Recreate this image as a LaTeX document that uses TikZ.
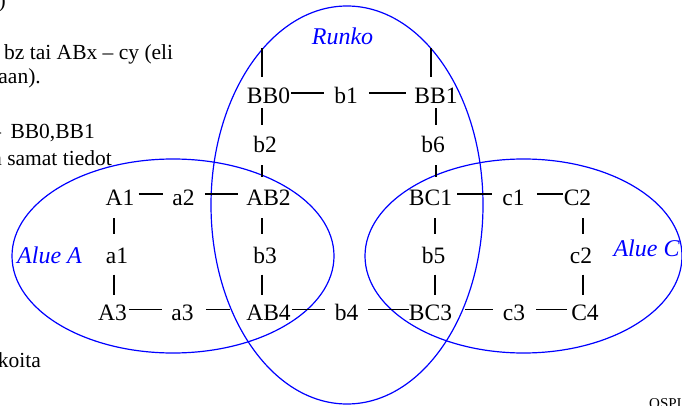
\documentclass[tikz,border=0pt]{standalone}
\usepackage{fontspec}
\setmainfont{Liberation Serif}
\begin{document}
\begin{tikzpicture}[x=1pt,y=-1pt,
  lab/.style={font=\fontsize{23.5}{24}\selectfont, inner sep=0pt, text height=16pt, text depth=0pt, anchor=base},
  side/.style={font=\fontsize{21.5}{22}\selectfont, inner sep=0pt},
  area/.style={draw=blue, line width=1.2pt},
  arealab/.style={text=blue, font=\fontsize{24}{24}\selectfont\itshape, inner sep=0pt, anchor=base},
  hl/.style={draw=black, line width=1.3pt},
  vl/.style={draw=black, line width=1.3pt}]
\useasboundingbox (0,0) rectangle (682,406);

% areas
\draw[area] (347,205) ellipse [x radius=136, y radius=199];
\draw[area] (173,256) ellipse [x radius=161, y radius=97];
\draw[area] (523.5,256) ellipse [x radius=158.5, y radius=97];
\node[arealab] (runko) at (342.5,45) {Runko};
\node[arealab] (aluea) at (49.5,263) {Alue A};
\node[arealab] (aluec) at (646.5,256) {Alue C};

% side text (cut off slide text)
\node[side, anchor=base east] (t0) at (6,8) {)};
\node[side, anchor=base west] (t1) at (4,60) {bz tai ABx – cy (eli};
\node[side, anchor=base east] (t2) at (41,84) {aan).};
\node[side, anchor=base east] (t3) at (95,139) {–\hspace{9.5pt}BB0,BB1};
\node[side, anchor=base east] (t4) at (112,166) {a samat tiedot};
\node[side, anchor=base east] (t5) at (41,367) {koita};
\node[font=\fontsize{15}{15}\selectfont, inner sep=0pt, anchor=base west] (t6) at (649,408) {OSPI};

% nodes
\node[lab] (BB0) at (268.5,104) {BB0};
\node[lab] (b1)  at (346,104) {b1};
\node[lab] (BB1) at (436,104) {BB1};
\node[lab] (b2)  at (265,153) {b2};
\node[lab] (b6)  at (433,153) {b6};
\node[lab] (A1)  at (120,205) {A1};
\node[lab] (a2)  at (183.5,205) {a2};
\node[lab] (AB2) at (268.5,205) {AB2};
\node[lab] (BC1) at (430.5,205) {BC1};
\node[lab] (c1)  at (513.5,205) {c1};
\node[lab] (C2)  at (577.5,205) {C2};
\node[lab] (a1)  at (117,263.5) {a1};
\node[lab] (b3)  at (265,263.5) {b3};
\node[lab] (b5)  at (433.5,263.5) {b5};
\node[lab] (c2)  at (581,263.5) {c2};
\node[lab] (A3)  at (112.5,320.5) {A3};
\node[lab] (a3)  at (182.5,320.5) {a3};
\node[lab] (AB4) at (268.5,320.5) {AB4};
\node[lab] (b4)  at (346.5,320.5) {b4};
\node[lab] (BC3) at (430.5,320.5) {BC3};
\node[lab] (c3)  at (514,320.5) {c3};
\node[lab] (C4)  at (585,320.5) {C4};

% column guides
\coordinate (colA) at (114,0);
\coordinate (colB) at (262,0);
\coordinate (colC) at (436,0);
\coordinate (colCc) at (435,0);
\coordinate (colD) at (583,0);
\coordinate (topL) at (262,48);
\coordinate (topR) at (431,48);

% horizontal connectors
\draw[hl, shorten <=1pt, shorten >=10pt] ([yshift=3pt]BB0.east) -- ([yshift=3pt]b1.west);
\draw[hl, shorten <=11pt, shorten >=8pt] ([yshift=3pt]b1.east) -- ([yshift=3pt]BB1.west);
\draw[hl, shorten <=4pt, shorten >=9pt] ([yshift=3pt]A1.east) -- ([yshift=3pt]a2.west);
\draw[hl, shorten <=10pt, shorten >=8pt] ([yshift=3pt]a2.east) -- ([yshift=3pt]AB2.west);
\draw[hl, shorten <=5pt, shorten >=10pt] ([yshift=3pt]BC1.east) -- ([yshift=3pt]c1.west);
\draw[hl, shorten <=12pt, shorten >=1pt] ([yshift=3pt]c1.east) -- ([yshift=3pt]C2.west);
\draw[hl, shorten <=2pt, shorten >=9pt] ([yshift=3pt]A3.east) -- ([yshift=3pt]a3.west);
\draw[hl, shorten <=12pt, shorten >=16pt] ([yshift=3pt]a3.east) -- ([yshift=3pt]AB4.west);
\draw[hl, shorten <=1pt, shorten >=10pt] ([yshift=3pt]AB4.east) -- ([yshift=3pt]b4.west);
\draw[hl, shorten <=10pt, shorten >=0pt] ([yshift=3pt]b4.east) -- ([yshift=3pt]BC3.west);
\draw[hl, shorten <=13pt, shorten >=10pt] ([yshift=3pt]BC3.east) -- ([yshift=3pt]c3.west);
\draw[hl, shorten <=11pt, shorten >=4pt] ([yshift=3pt]c3.east) -- ([yshift=3pt]C4.west);

% vertical connectors
\draw[vl, shorten >=11pt] (topL) -- (BB0.north -| topL);
\draw[vl, shorten >=11pt] (topR) -- (BB1.north -| topR);
\draw[vl, shorten <=4pt, shorten >=12pt] (BB0.south -| colB) -- (b2.north -| colB);
\draw[vl, shorten <=12pt, shorten >=12pt] (b2.south -| colB) -- (AB2.north -| colB);
\draw[vl, shorten <=4pt, shorten >=12pt] (BB1.south -| colC) -- (b6.north -| colC);
\draw[vl, shorten <=12pt, shorten >=12pt] (b6.south -| colC) -- (BC1.north -| colC);
\draw[vl, shorten <=13pt, shorten >=13pt] (A1.south -| colA) -- (a1.north -| colA);
\draw[vl, shorten <=11pt, shorten >=9pt] (a1.south -| colA) -- (A3.north -| colA);
\draw[vl, shorten <=13pt, shorten >=13pt] (AB2.south -| colB) -- (b3.north -| colB);
\draw[vl, shorten <=11pt, shorten >=9pt] (b3.south -| colB) -- (AB4.north -| colB);
\draw[vl, shorten <=13pt, shorten >=13pt] (BC1.south -| colCc) -- (b5.north -| colCc);
\draw[vl, shorten <=11pt, shorten >=9pt] (b5.south -| colCc) -- (BC3.north -| colCc);
\draw[vl, shorten <=13pt, shorten >=13pt] (C2.south -| colD) -- (c2.north -| colD);
\draw[vl, shorten <=11pt, shorten >=9pt] (c2.south -| colD) -- (C4.north -| colD);
\end{tikzpicture}
\end{document}
